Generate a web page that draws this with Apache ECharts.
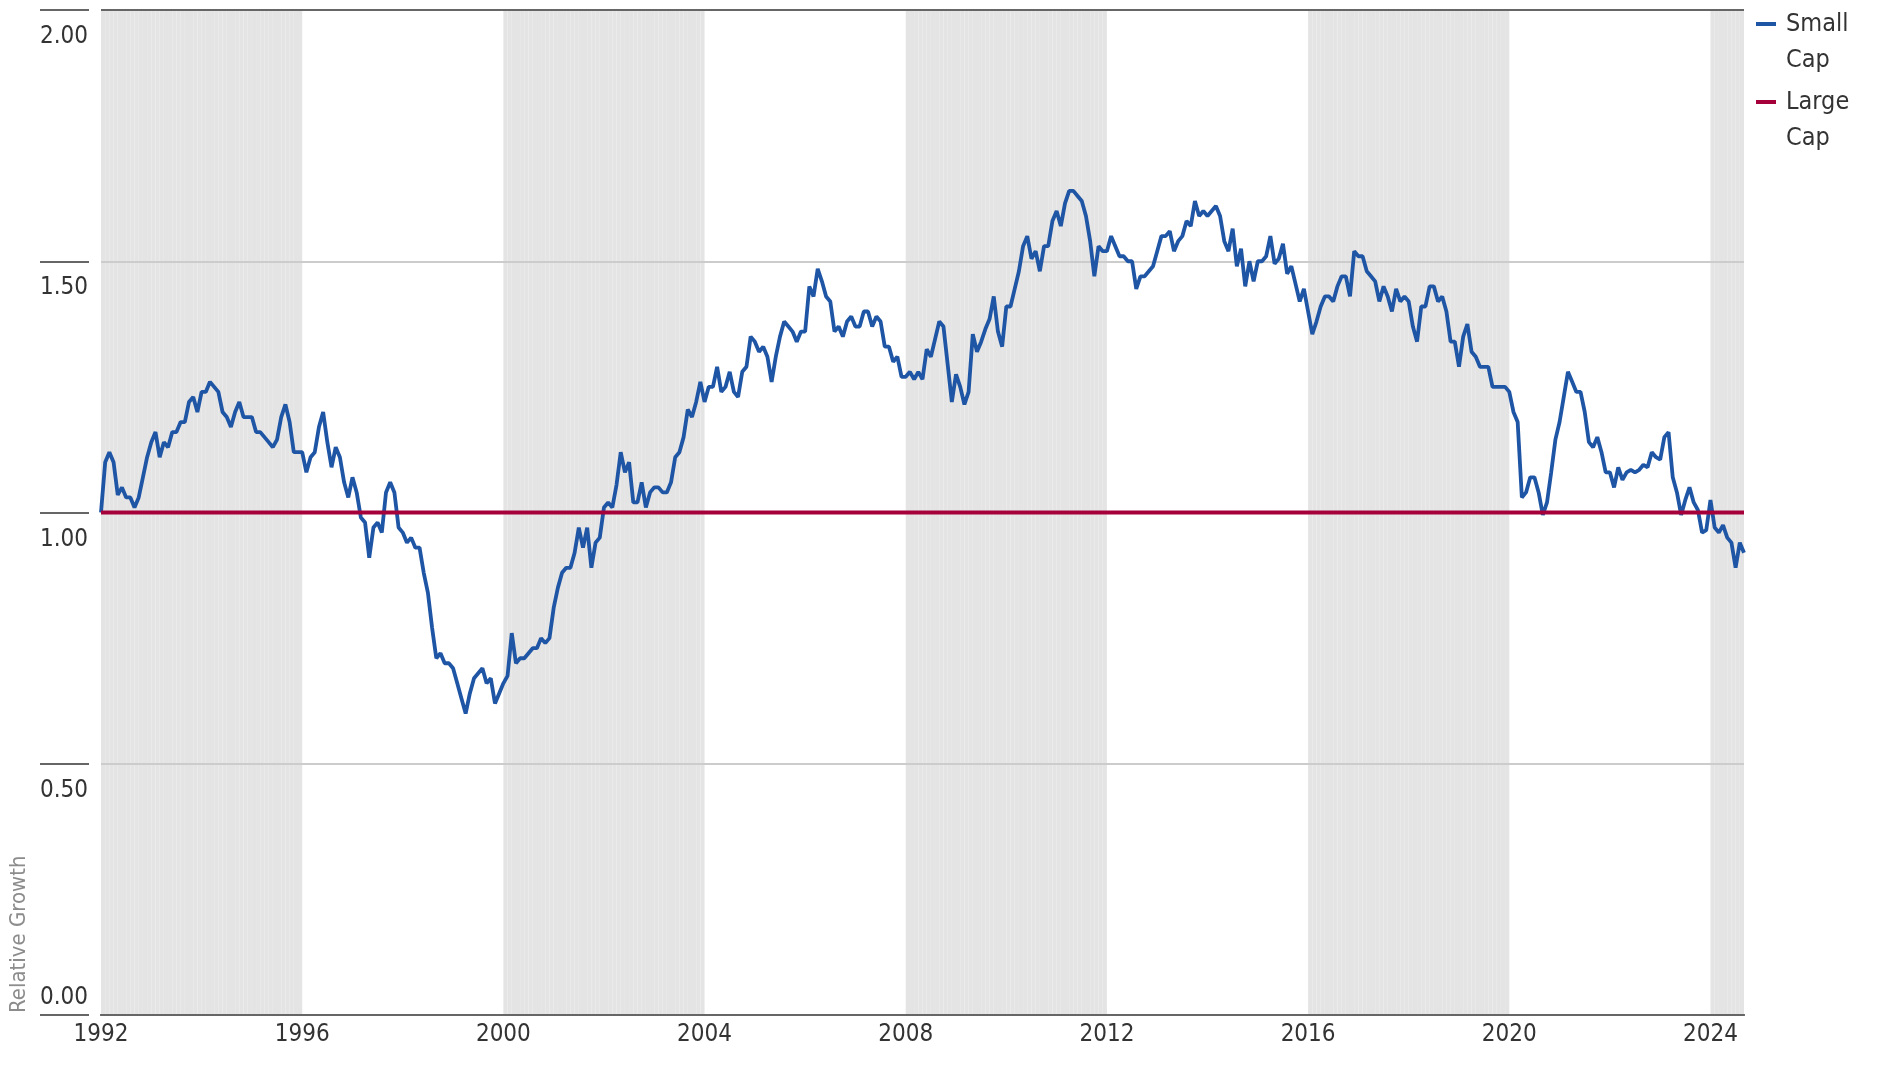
<!DOCTYPE html>
<html>
<head>
<meta charset="utf-8">
<script src="https://cdn.jsdelivr.net/npm/echarts@6/dist/echarts.min.js"></script>
<style>
html,body{margin:0;padding:0;background:#fff;}
#chart{width:1896px;height:1066px;}
</style>
</head>
<body>
<div id="chart"></div>
<script>
// ---- data ----
const startYear = 1992;           // first monthly observation: Jan 1992
const seriesNames = ['Small Cap', 'Large Cap'];
const smallCap = [
  // 1992
  1.00, 1.10, 1.12, 1.10, 1.035, 1.05, 1.03, 1.03, 1.01, 1.03, 1.07, 1.11,
  // 1993
  1.14, 1.16, 1.11, 1.14, 1.13, 1.16, 1.16, 1.18, 1.18, 1.22, 1.23, 1.20,
  // 1994
  1.24, 1.24, 1.26, 1.25, 1.24, 1.20, 1.19, 1.17, 1.20, 1.22, 1.19, 1.19,
  // 1995
  1.19, 1.16, 1.16, 1.15, 1.14, 1.13, 1.145, 1.19, 1.215, 1.18, 1.12, 1.12,
  // 1996
  1.12, 1.08, 1.11, 1.12, 1.17, 1.20, 1.14, 1.09, 1.13, 1.11, 1.06, 1.03,
  // 1997
  1.07, 1.04, 0.99, 0.98, 0.91, 0.97, 0.98, 0.96, 1.04, 1.06, 1.04, 0.97,
  // 1998
  0.96, 0.94, 0.95, 0.93, 0.93, 0.88, 0.84, 0.77, 0.71, 0.72, 0.70, 0.70,
  // 1999
  0.69, 0.66, 0.63, 0.60, 0.64, 0.67, 0.68, 0.69, 0.66, 0.67, 0.62, 0.64,
  // 2000
  0.66, 0.675, 0.76, 0.70, 0.71, 0.71, 0.72, 0.73, 0.73, 0.75, 0.74, 0.75,
  // 2001
  0.81, 0.85, 0.88, 0.89, 0.89, 0.92, 0.97, 0.93, 0.97, 0.89, 0.94, 0.95,
  // 2002
  1.01, 1.02, 1.01, 1.055, 1.12, 1.08, 1.10, 1.02, 1.02, 1.06, 1.01, 1.04,
  // 2003
  1.05, 1.05, 1.04, 1.04, 1.06, 1.11, 1.12, 1.15, 1.205, 1.19, 1.22, 1.26,
  // 2004
  1.22, 1.25, 1.25, 1.29, 1.24, 1.25, 1.28, 1.24, 1.23, 1.28, 1.29, 1.35,
  // 2005
  1.34, 1.32, 1.33, 1.31, 1.26, 1.31, 1.35, 1.38, 1.37, 1.36, 1.34, 1.36,
  // 2006
  1.36, 1.45, 1.43, 1.485, 1.46, 1.43, 1.42, 1.36, 1.37, 1.35, 1.38, 1.39,
  // 2007
  1.37, 1.37, 1.40, 1.40, 1.37, 1.39, 1.38, 1.33, 1.33, 1.30, 1.31, 1.27,
  // 2008
  1.27, 1.28, 1.265, 1.28, 1.265, 1.325, 1.31, 1.345, 1.38, 1.37, 1.295, 1.22,
  // 2009
  1.275, 1.25, 1.215, 1.24, 1.355, 1.32, 1.34, 1.365, 1.385, 1.43, 1.36, 1.33,
  // 2010
  1.41, 1.41, 1.445, 1.48, 1.53, 1.55, 1.505, 1.52, 1.48, 1.53, 1.53, 1.58,
  // 2011
  1.60, 1.57, 1.615, 1.64, 1.64, 1.63, 1.62, 1.59, 1.54, 1.47, 1.53, 1.52,
  // 2012
  1.52, 1.55, 1.53, 1.51, 1.51, 1.50, 1.50, 1.445, 1.47, 1.47, 1.48, 1.49,
  // 2013
  1.52, 1.55, 1.55, 1.56, 1.52, 1.54, 1.55, 1.58, 1.57, 1.62, 1.59, 1.60,
  // 2014
  1.59, 1.60, 1.61, 1.59, 1.54, 1.52, 1.565, 1.49, 1.525, 1.45, 1.50, 1.46,
  // 2015
  1.50, 1.50, 1.51, 1.55, 1.495, 1.505, 1.535, 1.475, 1.49, 1.455, 1.42, 1.445,
  // 2016
  1.40, 1.355, 1.38, 1.41, 1.43, 1.43, 1.42, 1.45, 1.47, 1.47, 1.43, 1.52,
  // 2017
  1.51, 1.51, 1.48, 1.47, 1.46, 1.42, 1.45, 1.43, 1.40, 1.445, 1.42, 1.43,
  // 2018
  1.42, 1.37, 1.34, 1.41, 1.41, 1.45, 1.45, 1.42, 1.43, 1.40, 1.34, 1.34,
  // 2019
  1.29, 1.35, 1.375, 1.32, 1.31, 1.29, 1.29, 1.29, 1.25, 1.25, 1.25, 1.25,
  // 2020
  1.24, 1.20, 1.18, 1.03, 1.04, 1.07, 1.07, 1.04, 0.995, 1.02, 1.08, 1.145,
  // 2021
  1.18, 1.23, 1.28, 1.26, 1.24, 1.24, 1.20, 1.14, 1.13, 1.15, 1.12, 1.08,
  // 2022
  1.08, 1.05, 1.09, 1.065, 1.08, 1.085, 1.08, 1.085, 1.095, 1.09, 1.12, 1.11,
  // 2023
  1.105, 1.15, 1.16, 1.07, 1.04, 0.995, 1.025, 1.05, 1.02, 1.005, 0.96, 0.965,
  // 2024 (Jan - Sep)
  1.025, 0.97, 0.96, 0.975, 0.95, 0.94, 0.89, 0.94, 0.92
];
const largeCapLevel = 1.0;        // benchmark: large cap relative to itself
const shadedStartYears = [1992, 2000, 2008, 2016, 2024];
const shadedEndYears   = [1996, 2004, 2012, 2020, 2025];
const yTicks = [0, 0.5, 1.0, 1.5, 2.0];
const xTickStep = 4;

// ---- derived ----
const monthX = smallCap.map((_, i) => startYear + i / 12);
const xMin = startYear;
const xMax = monthX[monthX.length - 1];
const smallData = smallCap.map((v, i) => [monthX[i], v]);
const largeData = monthX.map(x => [x, largeCapLevel]);
const bandData = [];
for (let k = 0; k < shadedStartYears.length; k++) {
  for (let i = 0; i < monthX.length - 1; i++) {
    const x = monthX[i];
    if (x >= shadedStartYears[k] - 1e-9 && x < shadedEndYears[k] - 1e-9) {
      bandData.push([x + 1 / 24, yTicks[yTicks.length - 1]]);
    }
  }
}

const FONT = "'Liberation Sans Narrow','DejaVu Sans Condensed','Roboto',sans-serif";
const W = 1896, H = 1066;
const G = {left: 101, right: 152, top: 10, bottom: 51};
const monthPx = (W - G.left - G.right) / ((xMax - xMin) * 12);

const chart = echarts.init(document.getElementById('chart'), null, {renderer: 'canvas'});
chart.setOption({
  animation: false,
  backgroundColor: '#ffffff',
  grid: {left: G.left, right: G.right, top: G.top, bottom: G.bottom, containLabel: false},
  legend: {
    data: seriesNames,
    orient: 'vertical',
    left: 1756,
    top: 6,
    padding: 0,
    itemGap: 6,
    itemWidth: 20,
    itemHeight: 40,
    icon: 'path://M0,0H20V4H0Z M0,39.99H0.01V40H0Z',
    formatter: n => n.replace(' ', '\n'),
    textStyle: {fontFamily: FONT, fontSize: 25, color: '#333', lineHeight: 36, padding: [0, 0, 0, 5]},
    selectedMode: false
  },
  xAxis: [{
    type: 'value',
    min: xMin,
    max: xMax,
    interval: xTickStep,
    axisLine: {show: true, lineStyle: {color: '#666', width: 2}},
    axisTick: {show: false},
    splitLine: {show: false},
    axisLabel: {
      fontFamily: FONT, fontSize: 24, color: '#333', margin: 8,
      showMaxLabel: false,
      formatter: v => (Math.abs(v - Math.round(v)) < 1e-6 && (Math.round(v) - startYear) % xTickStep === 0) ? String(Math.round(v)) : ''
    }
  }, {
    type: 'value',
    position: 'top',
    min: xMin,
    max: xMax,
    interval: xTickStep,
    axisLine: {show: true, lineStyle: {color: '#666', width: 2}},
    axisTick: {show: false},
    splitLine: {show: false},
    axisLabel: {show: false}
  }],
  yAxis: [{
    type: 'value',
    min: yTicks[0],
    max: yTicks[yTicks.length - 1],
    interval: 0.5,
    offset: 12,
    axisLine: {show: false},
    axisTick: {show: true, length: 49, lineStyle: {color: '#666', width: 2}},
    splitLine: {show: true, lineStyle: {color: ['#666666', '#cccccc', '#cccccc', '#cccccc', '#666666'], width: 2}},
    axisLabel: {
      fontFamily: FONT, fontSize: 24, color: '#333', margin: 1,
      verticalAlign: 'top', padding: [15, 0, 0, 0],
      formatter: v => v === 0 ? '' : v.toFixed(2)
    }
  }, {
    type: 'value',
    min: yTicks[0],
    max: yTicks[yTicks.length - 1],
    interval: 0.5,
    position: 'left',
    offset: 12,
    axisLine: {show: false},
    axisTick: {show: false},
    splitLine: {show: false},
    axisLabel: {
      fontFamily: FONT, fontSize: 24, color: '#333', margin: 1,
      verticalAlign: 'bottom', padding: [0, 0, 5, 0],
      formatter: v => v === 0 ? v.toFixed(2) : ''
    }
  }],
  graphic: [{
    type: 'text',
    x: 19,
    y: 1013,
    rotation: Math.PI / 2,
    silent: true,
    style: {
      text: 'Relative Growth',
      fontFamily: FONT,
      fontSize: 22,
      fill: '#8c8c8c',
      align: 'left',
      verticalAlign: 'middle'
    }
  }],
  series: [{
    name: 'bands',
    type: 'bar',
    xAxisIndex: 0,
    yAxisIndex: 0,
    data: bandData,
    barWidth: monthPx,
    itemStyle: {color: '#e4e4e4'},
    z: -1,
    silent: true
  }, {
    name: seriesNames[0],
    type: 'line',
    xAxisIndex: 0,
    yAxisIndex: 0,
    data: smallData,
    symbol: 'none',
    lineStyle: {color: '#1f55a5', width: 3.8},
    itemStyle: {color: '#1f55a5'},
    z: 3
  }, {
    name: seriesNames[1],
    type: 'line',
    xAxisIndex: 0,
    yAxisIndex: 0,
    data: largeData,
    symbol: 'none',
    lineStyle: {color: '#a6003a', width: 3.8},
    itemStyle: {color: '#a6003a'},
    z: 4
  }]
});
</script>
</body>
</html>
